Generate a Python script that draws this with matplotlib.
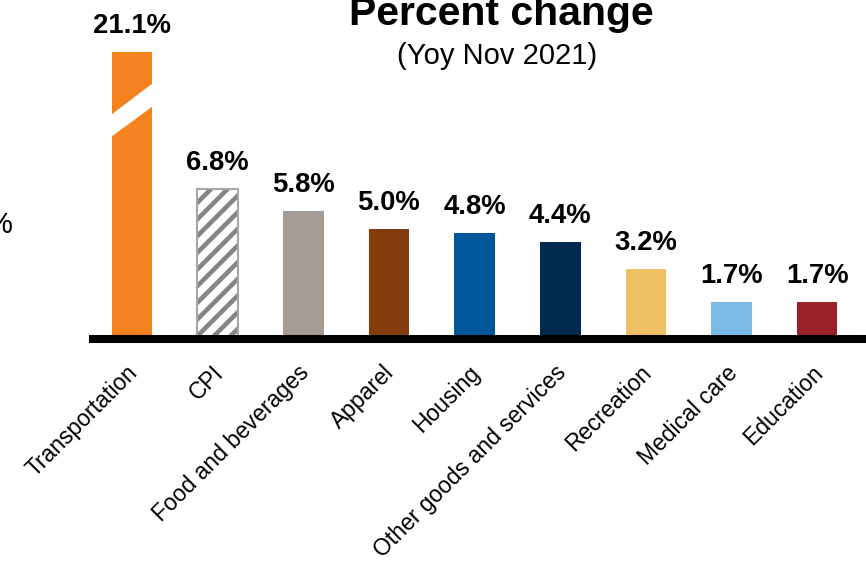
import numpy as np
import matplotlib
matplotlib.use("Agg")
import matplotlib.pyplot as plt
from matplotlib.patches import Polygon
from matplotlib.transforms import ScaledTranslation

plt.rcParams['font.family'] = ['Liberation Sans', 'DejaVu Sans']
plt.rcParams['hatch.linewidth'] = 3.3

# YoY CPI change by category, Nov 2021
categories = ['Transportation', 'CPI', 'Food and beverages', 'Apparel', 'Housing',
              'Other goods and services', 'Recreation', 'Medical care', 'Education']
values = [21.1, 6.8, 5.8, 5.0, 4.8, 4.4, 3.2, 1.7, 1.7]
colors = ['#F58220', '#FFFFFF', '#A59D95', '#843C0C', '#00579A',
          '#002B4F', '#F0C064', '#79BBE6', '#9B2027']

# broken axis: values above BREAK are squeezed so the tall bar fits
BREAK = 10.4
SQUEEZE = 0.2477


def forward(y):
    y = np.asarray(y, dtype=float)
    return np.where(y <= BREAK, y, BREAK + (y - BREAK) * SQUEEZE)


def inverse(d):
    d = np.asarray(d, dtype=float)
    return np.where(d <= BREAK, d, BREAK + (d - BREAK) / SQUEEZE)


W, H = 866, 566
fig = plt.figure(figsize=(W / 100, H / 100), dpi=100)
ax = fig.add_axes([89 / W, 1 - 339 / H, (W - 89) / W, 339 / H])
ax.set_yscale('function', functions=(forward, inverse))

x = np.arange(len(categories))
bw = 0.474
bars = ax.bar(x, values, width=bw, color=colors, linewidth=0, zorder=2)

# CPI bar: gray hatch plus a light outline
cpi = bars[1]
cpi.set_hatch('//')
cpi.set_edgecolor('#858585')
cpi.set_linewidth(0)
ax.bar(x[1], values[1], width=bw, facecolor='none', edgecolor='#A6A6A6',
       linewidth=1.5, zorder=3)

# white break stripe across the transportation bar
x0, x1 = x[0] - bw / 2 - 0.01, x[0] + bw / 2 + 0.01
stripe = inverse([9.18, 10.59, 11.64, 10.18])
ax.add_patch(Polygon([(x0, stripe[0]), (x1, stripe[1]), (x1, stripe[2]), (x0, stripe[3])],
                     closed=True, facecolor='white', edgecolor='none', zorder=4))

for xi, v in zip(x, values):
    ax.annotate(f'{v:.1f}%', (xi, v), xytext=(0, 13.7), textcoords='offset points',
                ha='center', va='baseline', fontsize=19.8, fontweight='bold')

ax.axhline(0, color='black', linewidth=5.8, zorder=5, clip_on=False,
           solid_capstyle='butt')

ax.set_xlim(-0.502, 8.570)
ax.set_ylim(0, float(inverse(339 / 22)))
ax.set_xticks(x)
ax.set_xticklabels(categories, rotation=45, ha='right', rotation_mode='anchor',
                   fontsize=16.5)
ax.tick_params(axis='x', length=0, pad=16)
shift = ScaledTranslation(-6 / 100, 0, fig.dpi_scale_trans)
for lbl in ax.get_xticklabels():
    lbl.set_transform(lbl.get_transform() + shift)
ax.set_yticks([])
for s in ax.spines.values():
    s.set_visible(False)
ax.patch.set_visible(False)

fig.text(501 / W, 1 - 25 / H, 'Percent change', ha='center', va='baseline',
         fontsize=29.5, fontweight='bold')
fig.text(497.5 / W, 1 - 64 / H, '(Yoy Nov 2021)', ha='center', va='baseline',
         fontsize=21)
fig.text(13 / W, 1 - 233 / H, '%', ha='right', va='baseline', fontsize=21)

fig.savefig('out.png', dpi=100)
